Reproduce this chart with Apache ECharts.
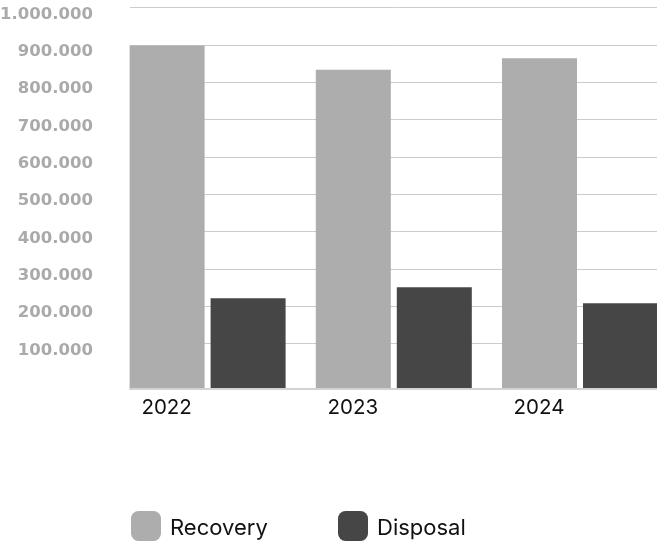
<!DOCTYPE html>
<html>
<head>
<meta charset="utf-8">
<script src="https://cdn.jsdelivr.net/npm/echarts@6/dist/echarts.min.js"></script>
<style>
  html, body { margin: 0; padding: 0; background: #ffffff; }
  #chart { width: 657px; height: 542px; }
</style>
</head>
<body>
<div id="chart"></div>
<script>
// Waste treatment volumes per year
const categories = ['2022', '2023', '2024'];
const recovery = [898000, 833000, 864000];
const disposal = [221000, 251000, 208000];
const seriesNames = ['Recovery', 'Disposal'];

const axisMax = 1000000;
const axisStep = 100000;
// bars rise from the axis line, a little under the zero grid line
const barBase = -19200;

// dotted thousands separator, zero left unlabeled
function fmt(v) {
  if (v === 0) return '';
  return String(v).replace(/\B(?=(\d{3})+(?!\d))/g, '.');
}

const chart = echarts.init(document.getElementById('chart'), null, { renderer: 'canvas' });

const textFont = 'Inter, "Noto Sans", sans-serif';

// legend entry text, nudged slightly below the swatch centre
const legendText = {
  color: '#111111', fontFamily: textFont, fontSize: 22,
  padding: [0, 0, 0, 4],
  rich: {
    t: { color: '#111111', fontFamily: textFont, fontSize: 22, padding: [5, 0, 0, 0] }
  }
};
const legendFormatter = name => '{t|' + name + '}';

chart.setOption({
  animation: false,
  backgroundColor: '#ffffff',
  grid: [
    // scale, grid lines and value labels
    { left: 130, right: 0, top: 7.5, height: 373.3, outerBoundsMode: 'none', containLabel: false },
    // bars
    { left: 114.5, width: 558.6, top: 7.5, height: 380.5, outerBoundsMode: 'none', containLabel: false }
  ],
  xAxis: [
    {
      gridIndex: 0, type: 'category', data: categories,
      offset: 7.5, z: 5,
      axisLine: { show: true, onZero: false, lineStyle: { color: '#d3d3d3', width: 2 } },
      axisTick: { show: false },
      axisLabel: { show: false },
      splitLine: { show: false }
    },
    {
      gridIndex: 1, type: 'category', data: categories,
      axisLine: { show: false, onZero: false },
      axisTick: { show: false },
      axisLabel: {
        margin: 9.5,
        color: '#111111',
        fontFamily: textFont,
        fontSize: 20.5,
        verticalAlign: 'top',
        lineHeight: 20,
        padding: [0, 82, 0, 0]
      }
    }
  ],
  yAxis: [
    {
      gridIndex: 0, type: 'value', min: 0, max: axisMax, interval: axisStep,
      axisLine: { show: false },
      axisTick: { show: false },
      splitLine: { show: true, showMinLine: false, lineStyle: { color: '#cccccc', width: 1 } },
      axisLabel: {
        margin: 37,
        color: '#aaaaaa',
        fontFamily: '"DejaVu Sans", sans-serif',
        fontWeight: 'bold',
        fontSize: 16.5,
        verticalAlign: 'top',
        lineHeight: 14,
        formatter: fmt
      }
    },
    {
      gridIndex: 1, type: 'value', min: barBase, max: axisMax, startValue: barBase,
      show: false,
      splitLine: { show: false }
    }
  ],
  legend: [
    {
      data: [seriesNames[0]], left: 131, top: 511, padding: 0,
      icon: 'roundRect', itemWidth: 30, itemHeight: 30,
      formatter: legendFormatter, textStyle: legendText
    },
    {
      data: [seriesNames[1]], left: 338, top: 511, padding: 0,
      icon: 'roundRect', itemWidth: 30, itemHeight: 30,
      formatter: legendFormatter, textStyle: legendText
    }
  ],
  series: [
    {
      name: seriesNames[0], type: 'bar', xAxisIndex: 1, yAxisIndex: 1,
      data: recovery, barWidth: 75, barGap: '8%',
      itemStyle: { color: '#acadac' }
    },
    {
      name: seriesNames[1], type: 'bar', xAxisIndex: 1, yAxisIndex: 1,
      data: disposal, barWidth: 75, barGap: '8%',
      itemStyle: { color: '#464646' }
    }
  ]
});
</script>
</body>
</html>
